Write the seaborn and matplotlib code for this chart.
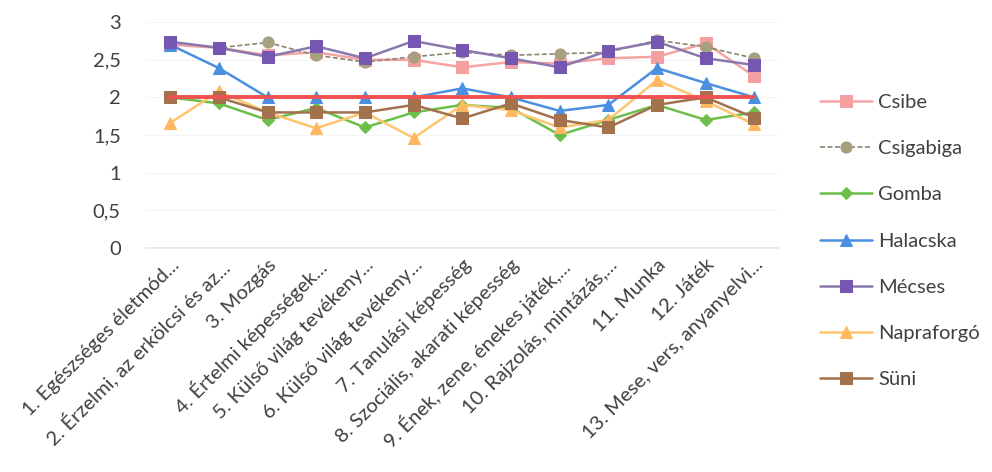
import matplotlib
matplotlib.use("Agg")
import matplotlib.pyplot as plt
from matplotlib.ticker import FuncFormatter
import seaborn as sns
import pandas as pd

# Kategóriák (x tengely)
categories = [
    "1. Egészséges életmód...",
    "2. Érzelmi, az erkölcsi és az...",
    "3. Mozgás",
    "4. Értelmi képességek...",
    "5. Külső világ tevékeny...",
    "6. Külső világ tevékeny...",
    "7. Tanulási képesség",
    "8. Szociális, akarati képesség",
    "9. Ének, zene, énekes játék,...",
    "10. Rajzolás, mintázás,...",
    "11. Munka",
    "12. Játék",
    "13. Mese, vers, anyanyelvi...",
]

# Csoportok értékei
csibe = [2.70, 2.66, 2.56, 2.60, 2.50, 2.50, 2.40, 2.47, 2.45, 2.52, 2.54, 2.72, 2.28]
csigabiga = [2.73, 2.66, 2.73, 2.56, 2.47, 2.54, 2.60, 2.56, 2.58, 2.60, 2.76, 2.67, 2.52]
gomba = [2.00, 1.92, 1.70, 1.86, 1.60, 1.80, 1.90, 1.86, 1.50, 1.70, 1.90, 1.70, 1.80]
halacska = [2.70, 2.39, 2.00, 2.00, 2.00, 2.00, 2.12, 2.00, 1.82, 1.90, 2.39, 2.19, 2.00]
mecses = [2.74, 2.66, 2.54, 2.68, 2.52, 2.75, 2.63, 2.52, 2.40, 2.62, 2.74, 2.52, 2.43]
napraforgo = [1.66, 2.08, 1.80, 1.59, 1.80, 1.46, 1.90, 1.83, 1.60, 1.70, 2.23, 1.95, 1.64]
suni = [2.00, 2.00, 1.80, 1.80, 1.80, 1.90, 1.72, 1.92, 1.70, 1.60, 1.90, 2.00, 1.73]
atlag = [2.0] * len(categories)

series = {
    "Csibe": csibe,
    "Csigabiga": csigabiga,
    "Gomba": gomba,
    "Halacska": halacska,
    "Mécses": mecses,
    "Napraforgó": napraforgo,
    "Süni": suni,
}

# Stílusok: (vonal szín, marker, marker szín, vonalstílus, vonalvastagság)
styles = {
    "Csibe": ("#F5A3A3", "s", "#F4A0A0", "-", 1.8),
    "Csigabiga": ("#8C8670", "o", "#A6A07F", (0, (3, 1.5)), 1.2),
    "Gomba": ("#6CC04A", "D", "#6CC04A", "-", 1.8),
    "Halacska": ("#4A8FE0", "^", "#4A8FE0", "-", 1.8),
    "Mécses": ("#8A78AE", "s", "#7556B0", "-", 1.8),
    "Napraforgó": ("#FFC46E", "^", "#FFB860", "-", 1.8),
    "Süni": ("#A3714B", "s", "#A3714B", "-", 1.8),
}

sns.set_theme(style="white")
plt.rcParams['font.family'] = ['Lato', 'DejaVu Sans']

fig, ax = plt.subplots(figsize=(9.92, 4.72), dpi=100)
fig.subplots_adjust(left=0.147, right=0.785, top=0.953, bottom=0.475)

x = list(range(len(categories)))

# Piros vonal a 2-es értéknél
sns.lineplot(x=x, y=atlag, ax=ax, color="#F05252", linewidth=2.8, legend=False, zorder=5)

for name, vals in series.items():
    lc, mk, mc, ls, lw = styles[name]
    df = pd.DataFrame({"x": x, "y": vals})
    sns.lineplot(data=df, x="x", y="y", ax=ax, color=lc, linewidth=lw, linestyle=ls,
                 marker=mk, markersize=8 if mk != "D" else 6.5, markerfacecolor=mc,
                 markeredgecolor=mc, label=name)

ax.set_xlim(-0.5, len(categories) - 0.5)
ax.set_ylim(0, 3)
ax.set_yticks([0, 0.5, 1, 1.5, 2, 2.5, 3])
ax.yaxis.set_major_formatter(FuncFormatter(lambda v, p: f"{v:g}".replace(".", ",")))
ax.set_xticks(x)
ax.set_xticklabels(categories, rotation=45, ha="right", rotation_mode="anchor")
ax.tick_params(axis="both", length=0, labelsize=14.5, colors="#404040")
ax.tick_params(axis="y", pad=18)
ax.tick_params(axis="x", pad=6)
ax.set_xlabel("")
ax.set_ylabel("")
ax.grid(axis="y", color="#f4f4f4", linewidth=0.8)
for s in ["top", "right", "left"]:
    ax.spines[s].set_visible(False)
ax.spines["bottom"].set_color("#e8e8e8")

ax.legend(loc="center left", bbox_to_anchor=(1.065, 0.03), frameon=False,
          fontsize=14.5, labelspacing=1.45, handlelength=2.6, handletextpad=0.3,
          borderpad=0, borderaxespad=0, labelcolor="#404040")

fig.savefig("out.png", dpi=100)
